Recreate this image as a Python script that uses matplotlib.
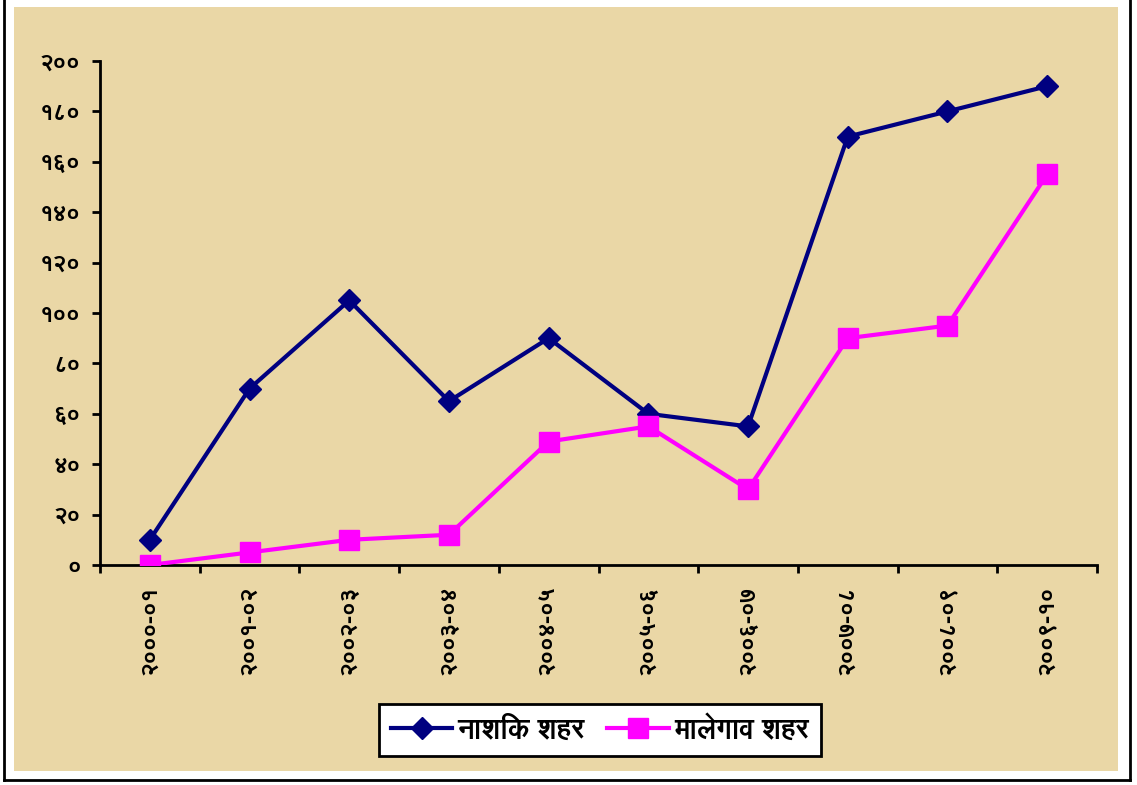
import numpy as np
import matplotlib.pyplot as plt
from matplotlib import font_manager, ft2font
from matplotlib.patches import Rectangle
from matplotlib.lines import Line2D

# आकडे (वर्षनिहाय)
years = ['२०००-०१', '२००१-०२', '२००२-०३', '२००३-०४', '२००४-०५',
         '२००५-०६', '२००६-०७', '२००७-०८', '२००८-०९', '२००९-१०']
nashik = [10, 70, 105, 65, 90, 60, 55, 170, 180, 190]
malegaon = [0, 5, 10, 12, 49, 55, 30, 90, 95, 155]
y_ticks = [0, 20, 40, 60, 80, 100, 120, 140, 160, 180, 200]
y_labels = ['०', '२०', '४०', '६०', '८०', '१००', '१२०', '१४०', '१६०', '१८०', '२००']
series_names = ['नाशिक शहर', 'मालेगाव शहर']


def find_devanagari():
    # देवनागरी अक्षरे असलेले फॉन्ट
    found = []
    for f in font_manager.fontManager.ttflist:
        try:
            cm = ft2font.FT2Font(f.fname).get_charmap()
        except Exception:
            continue
        if 0x0928 in cm and 0x0966 in cm and f.name not in found:
            found.append(f.name)
    return found


found = find_devanagari()
pref = [n for n in ['FreeSans'] if n in found]
rest = [n for n in found if n not in pref and 'Unifont' not in n and 'Mono' not in n]
plt.rcParams['font.family'] = pref + rest + ['DejaVu Sans']

fig = plt.figure(figsize=(11.37, 7.85), dpi=100, facecolor='white')
W, H = 1137, 785

# पार्श्वभूमी
fig.patches.append(Rectangle((14 / W, 1 - 771 / H), (1118 - 14) / W, (771 - 7) / H,
                             transform=fig.transFigure, facecolor='#EAD7A6',
                             edgecolor='none', zorder=-1))
yb = 1 - 780 / H
for xs, ys in [([4 / W, 4 / W], [yb, 1]),
               ([1130 / W, 1130 / W], [yb, 1]),
               ([4 / W, 1130 / W], [yb, yb])]:
    fig.add_artist(Line2D(xs, ys, color='black', lw=2, transform=fig.transFigure))

ax = fig.add_axes([100 / W, 1 - 565 / H, (1097 - 100) / W, (565 - 61) / H])
ax.set_facecolor('none')

x = np.arange(len(years))
ax.plot(x, nashik, color='#000080', lw=3, marker='D', ms=11, label=series_names[0],
        zorder=3)
ax.plot(x, malegaon, color='#FF00FF', lw=3, marker='s', ms=14, label=series_names[1],
        zorder=3)

ax.set_xlim(-0.5, len(years) - 0.5)
ax.set_ylim(0, 200)
ax.set_yticks(y_ticks)
ax.set_yticklabels(y_labels, fontsize=17, fontweight='bold')
ax.set_xticks(x)
ax.set_xticklabels(years, rotation=90, fontsize=17, fontweight='bold')
ax.set_xticks(np.arange(len(years) + 1) - 0.5, minor=True)
ax.tick_params(axis='x', which='major', length=0, pad=15)
ax.tick_params(axis='x', which='minor', length=6, width=2, direction='out')
ax.tick_params(axis='y', length=6, width=2, direction='out', pad=8)
for s in ['top', 'right']:
    ax.spines[s].set_visible(False)
for s in ['left', 'bottom']:
    ax.spines[s].set_linewidth(2)

leg = fig.legend(loc='center', bbox_to_anchor=(600 / W, 1 - 730 / H), ncol=2,
                 fancybox=False, framealpha=1, edgecolor='black',
                 prop={'size': 20, 'weight': 'bold'}, handlelength=2.2,
                 columnspacing=0.8, handletextpad=0.2, borderpad=0.45,
                 borderaxespad=0)
leg.get_frame().set_linewidth(2)

fig.savefig('out.png', dpi=100, facecolor='white')
